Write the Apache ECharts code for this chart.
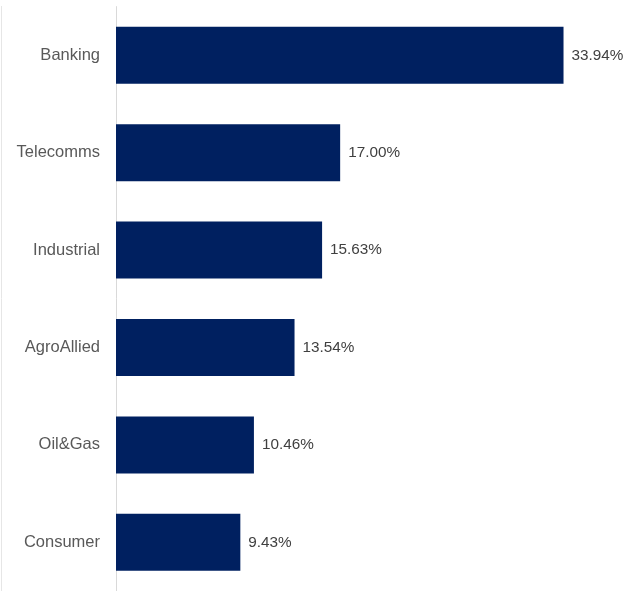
<!DOCTYPE html>
<html>
<head>
<meta charset="utf-8">
<script src="https://cdn.jsdelivr.net/npm/echarts@6/dist/echarts.min.js"></script>
<style>
  html, body { margin: 0; padding: 0; background: #fff; }
  #chart { width: 636px; height: 591px; }
</style>
</head>
<body>
<div id="chart"></div>
<script>
// Sector weights (%), listed bottom-to-top for the category axis
const sectors = ['Consumer', 'Oil&Gas', 'AgroAllied', 'Industrial', 'Telecomms', 'Banking'];
const weights = [9.43, 10.46, 13.54, 15.63, 17.00, 33.94];

const chart = echarts.init(document.getElementById('chart'));
chart.setOption({
  animation: false,
  backgroundColor: '#ffffff',
  grid: { left: 116, right: 58.5, top: 6.6, bottom: -2, containLabel: false },
  xAxis: {
    type: 'value',
    min: 0,
    max: 35,
    show: false
  },
  yAxis: {
    type: 'category',
    data: sectors,
    axisLine: { show: true, lineStyle: { color: '#d9d9d9', width: 1 } },
    axisTick: { show: false },
    axisLabel: {
      margin: 16,
      color: '#595959',
      fontSize: 16.5,
      fontFamily: 'Liberation Sans, Arial, sans-serif'
    },
    splitLine: { show: false }
  },
  series: [{
    type: 'bar',
    data: weights,
    barWidth: 57,
    itemStyle: { color: '#002060' },
    label: {
      show: true,
      position: 'right',
      distance: 8,
      color: '#404040',
      fontSize: 15.3,
      fontFamily: 'Liberation Sans, Arial, sans-serif',
      formatter: p => p.value.toFixed(2) + '%'
    }
  }],
  graphic: [{
    type: 'line',
    shape: { x1: 1.5, y1: 6, x2: 1.5, y2: 591 },
    style: { stroke: '#e6e6e6', lineWidth: 1 },
    silent: true
  }]
});
</script>
</body>
</html>
